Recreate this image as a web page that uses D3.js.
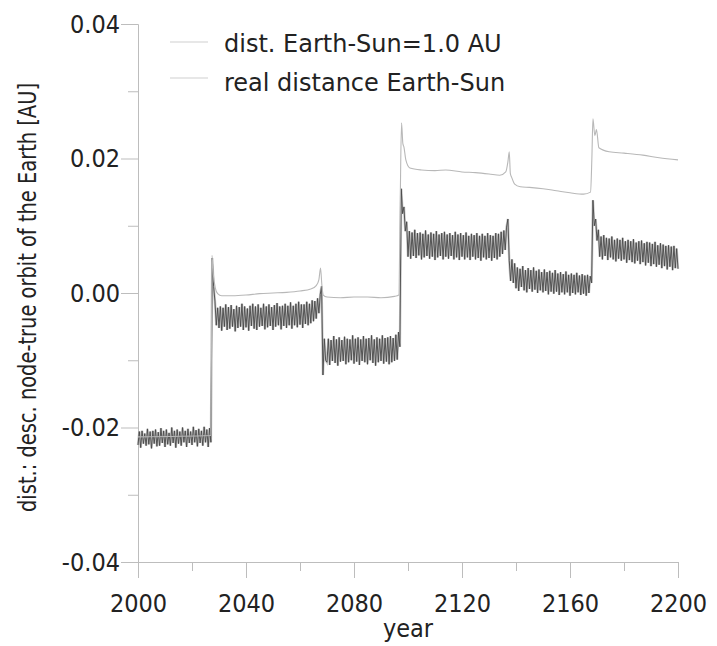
<!DOCTYPE html>
<html>
<head>
<meta charset="utf-8">
<script src="https://cdn.jsdelivr.net/npm/d3@7"></script>
<style>
  html, body { margin: 0; padding: 0; background: #fff; }
  svg { display: block; }
</style>
</head>
<body>
<svg id="chart" width="717" height="646"></svg>
<script>
// ---------------- data ----------------
const xMajorTicks = [2000, 2040, 2080, 2120, 2160, 2200];
const xMinorTicks = [2020, 2060, 2100, 2140, 2180];
const yMajorTicks = [-0.04, -0.02, 0.00, 0.02, 0.04];
const yMinorTicks = [-0.03, -0.01, 0.01, 0.03];
const yTickLabels = ["-0.04", "-0.02", "0.00", "0.02", "0.04"];

const seriesNames = ["dist. Earth-Sun=1.0 AU", "real distance Earth-Sun"];

// "dist. Earth-Sun=1.0 AU" : [year, AU]
const smoothDist = [
  [2000, -0.0214], [2027.0, -0.0212], [2027.4, 0.0056], [2027.9, 0.0028], [2028.6, 0.0008],
  [2029.5, -0.0001], [2031, -0.0004], [2035, -0.0004], [2040, -0.0003], [2045, -0.0001],
  [2050, 0.0000], [2055, 0.0001], [2060, 0.0003], [2064, 0.0006], [2066, 0.0011],
  [2067.0, 0.0020], [2067.6, 0.0037], [2068.1, 0.0012], [2068.6, -0.0003], [2070, -0.0006],
  [2075, -0.0007], [2080, -0.0006], [2085, -0.0006], [2090, -0.0007], [2095, -0.0005],
  [2096.6, -0.0003], [2097.1, 0.0130], [2097.6, 0.0253], [2098.1, 0.0222], [2098.5, 0.0217],
  [2099.2, 0.0198], [2100.7, 0.0186], [2105, 0.0183], [2110, 0.0182], [2114, 0.0183],
  [2120, 0.0180], [2125, 0.0179], [2130, 0.0177], [2134, 0.0175], [2136.2, 0.0180],
  [2137.0, 0.0195], [2137.5, 0.0210], [2137.9, 0.0178], [2138.4, 0.0172], [2139.5, 0.0162],
  [2141.6, 0.0158], [2145, 0.0157], [2150, 0.0155], [2155, 0.0152], [2160, 0.0149],
  [2165, 0.0147], [2167.6, 0.0150], [2168.1, 0.0200], [2168.5, 0.0259], [2169.2, 0.0234],
  [2169.8, 0.0243], [2170.7, 0.0216], [2174.5, 0.0210], [2180, 0.0208], [2187, 0.0205],
  [2193, 0.0201], [2200, 0.0198]
];

// "real distance Earth-Sun" : AU, one value every half year from 2000.0 to 2200.0
const realStart = 2000;
const realStep = 0.5;
const realDist = [
  // 2000 - 2026.5
  -0.0226, -0.0206, -0.0230, -0.0205, -0.0224, -0.0209, -0.0227, -0.0202, -0.0225, -0.0206,
  -0.0231, -0.0205, -0.0224, -0.0203, -0.0228, -0.0207, -0.0227, -0.0201, -0.0223, -0.0205,
  -0.0229, -0.0203, -0.0225, -0.0208, -0.0227, -0.0200, -0.0223, -0.0205, -0.0230, -0.0203,
  -0.0224, -0.0206, -0.0227, -0.0200, -0.0222, -0.0205, -0.0229, -0.0202, -0.0223, -0.0206,
  -0.0226, -0.0199, -0.0222, -0.0204, -0.0228, -0.0202, -0.0223, -0.0205, -0.0227, -0.0199,
  -0.0222, -0.0203, -0.0229, -0.0201,
  // 2027.0 - 2029.5
  -0.0222, 0.0052, 0.0010, -0.0012, -0.0048, -0.0022,
  // 2030 - 2067.5
  -0.0052, -0.0020, -0.0056, -0.0022, -0.0050, -0.0017, -0.0055, -0.0021, -0.0053, -0.0018,
  -0.0050, -0.0024, -0.0057, -0.0019, -0.0052, -0.0021, -0.0050, -0.0016, -0.0055, -0.0020,
  -0.0051, -0.0023, -0.0056, -0.0019, -0.0049, -0.0016, -0.0053, -0.0020, -0.0055, -0.0017,
  -0.0050, -0.0022, -0.0049, -0.0016, -0.0054, -0.0020, -0.0051, -0.0017, -0.0049, -0.0021,
  -0.0055, -0.0018, -0.0050, -0.0015, -0.0048, -0.0020, -0.0054, -0.0019, -0.0049, -0.0016,
  -0.0052, -0.0019, -0.0048, -0.0014, -0.0053, -0.0019, -0.0048, -0.0016, -0.0051, -0.0013,
  -0.0047, -0.0017, -0.0052, -0.0017, -0.0046, -0.0013, -0.0048, -0.0016, -0.0045, -0.0011,
  -0.0042, -0.0012, -0.0038, -0.0008, -0.0030, -0.0002,
  // 2068.0 - 2069.5
  0.0010, -0.0122, -0.0068, -0.0100,
  // 2070 - 2096.5
  -0.0103, -0.0068, -0.0107, -0.0070, -0.0101, -0.0064, -0.0104, -0.0069, -0.0108, -0.0066,
  -0.0102, -0.0070, -0.0101, -0.0065, -0.0106, -0.0068, -0.0103, -0.0069, -0.0100, -0.0063,
  -0.0105, -0.0068, -0.0102, -0.0066, -0.0107, -0.0069, -0.0101, -0.0064, -0.0103, -0.0068,
  -0.0106, -0.0067, -0.0100, -0.0063, -0.0104, -0.0069, -0.0108, -0.0066, -0.0103, -0.0068,
  -0.0101, -0.0063, -0.0105, -0.0067, -0.0102, -0.0066, -0.0106, -0.0064, -0.0103, -0.0067,
  -0.0101, -0.0062, -0.0099, -0.0058,
  // 2097.0 - 2099.5
  -0.0080, 0.0155, 0.0118, 0.0128, 0.0092, 0.0106,
  // 2100 - 2136.5
  0.0054, 0.0092, 0.0051, 0.0090, 0.0055, 0.0094, 0.0052, 0.0089, 0.0056, 0.0090,
  0.0050, 0.0088, 0.0053, 0.0093, 0.0055, 0.0087, 0.0051, 0.0090, 0.0054, 0.0088,
  0.0049, 0.0092, 0.0053, 0.0087, 0.0055, 0.0089, 0.0050, 0.0091, 0.0054, 0.0087,
  0.0051, 0.0089, 0.0055, 0.0086, 0.0050, 0.0091, 0.0053, 0.0087, 0.0049, 0.0089,
  0.0054, 0.0086, 0.0050, 0.0090, 0.0053, 0.0085, 0.0049, 0.0088, 0.0054, 0.0086,
  0.0050, 0.0089, 0.0052, 0.0085, 0.0048, 0.0088, 0.0053, 0.0085, 0.0050, 0.0089,
  0.0052, 0.0086, 0.0048, 0.0085, 0.0052, 0.0089, 0.0050, 0.0088, 0.0054, 0.0091,
  0.0058, 0.0093, 0.0064, 0.0098,
  // 2137.0 - 2139.5
  0.0110, 0.0048, 0.0018, 0.0050, 0.0015, 0.0044,
  // 2140 - 2167.5
  0.0007, 0.0038, 0.0003, 0.0036, 0.0009, 0.0040, 0.0004, 0.0034, 0.0001, 0.0037,
  0.0006, 0.0034, 0.0002, 0.0038, 0.0005, 0.0033, 0.0000, 0.0035, 0.0004, 0.0031,
  0.0001, 0.0035, 0.0003, 0.0031, -0.0002, 0.0033, 0.0002, 0.0030, -0.0001, 0.0034,
  0.0002, 0.0029, -0.0003, 0.0031, 0.0001, 0.0028, -0.0002, 0.0032, 0.0001, 0.0027,
  -0.0004, 0.0029, 0.0000, 0.0027, -0.0002, 0.0030, 0.0001, 0.0026, -0.0003, 0.0028,
  -0.0001, 0.0026, -0.0004, 0.0027, 0.0000, 0.0025,
  // 2168.0 - 2170.5
  0.0015, 0.0138, 0.0100, 0.0110, 0.0078, 0.0094,
  // 2171 - 2199.5
  0.0054, 0.0084, 0.0050, 0.0086, 0.0055, 0.0082, 0.0049, 0.0081, 0.0053, 0.0084,
  0.0050, 0.0079, 0.0047, 0.0081, 0.0051, 0.0079, 0.0048, 0.0082, 0.0050, 0.0077,
  0.0045, 0.0079, 0.0049, 0.0077, 0.0046, 0.0080, 0.0044, 0.0075, 0.0048, 0.0077,
  0.0043, 0.0078, 0.0046, 0.0074, 0.0041, 0.0076, 0.0045, 0.0075, 0.0040, 0.0073,
  0.0043, 0.0076, 0.0039, 0.0071, 0.0042, 0.0074, 0.0037, 0.0072, 0.0040, 0.0070,
  0.0035, 0.0071, 0.0039, 0.0069, 0.0034, 0.0070, 0.0037, 0.0066,
  // 2200.0
  0.0036
];

// ---------------- drawing ----------------
const svg = d3.select("#chart");
const tickFont = "'DejaVu Sans Condensed', 'DejaVu Sans', sans-serif";
const axisColor = "#bdbdbd";
const textColor = "#222";

const x = d3.scaleLinear().domain([2000, 2200]).range([138, 678]);
const y = d3.scaleLinear().domain([-0.04, 0.04]).range([562, 24]);

// axes
const gx = svg.append("g").attr("transform", `translate(0,${y(-0.04)})`);
gx.call(d3.axisBottom(x).tickValues(xMinorTicks).tickSize(9).tickSizeOuter(0).tickFormat(""));
const gx2 = svg.append("g").attr("transform", `translate(0,${y(-0.04)})`);
gx2.call(d3.axisBottom(x).tickValues(xMajorTicks).tickSize(16).tickSizeOuter(0).tickFormat(d3.format("d")));
gx2.selectAll("text").attr("dy", null).attr("y", 50);

const gy = svg.append("g").attr("transform", `translate(${x(2000)},0)`);
gy.call(d3.axisLeft(y).tickValues(yMinorTicks).tickSize(10).tickSizeOuter(0).tickFormat(""));
const gy2 = svg.append("g").attr("transform", `translate(${x(2000)},0)`);
gy2.call(d3.axisLeft(y).tickValues(yMajorTicks).tickSize(17).tickSizeOuter(0)
  .tickPadding(1).tickFormat((d, i) => yTickLabels[i]));

svg.selectAll(".domain").attr("stroke", axisColor);
svg.selectAll(".tick line").attr("stroke", axisColor);
svg.selectAll(".tick text")
  .attr("fill", textColor)
  .style("font-family", tickFont)
  .style("font-size", "25px");

// series
const realPts = realDist.map((v, i) => [realStart + i * realStep, v]);
const line = d3.line().x(d => x(d[0])).y(d => y(d[1]));

// soft halo under the oscillating series (mimics the blurred band)
svg.append("path")
  .datum(realPts)
  .attr("d", line)
  .attr("fill", "none")
  .attr("stroke", "#9a9a9a")
  .attr("stroke-opacity", 0.55)
  .attr("stroke-width", 2.4);

svg.append("path")
  .datum(realPts)
  .attr("d", line)
  .attr("fill", "none")
  .attr("stroke", "#474747")
  .attr("stroke-width", 0.9);

svg.append("path")
  .datum(smoothDist)
  .attr("d", line.curve(d3.curveMonotoneX))
  .attr("fill", "none")
  .attr("stroke", "#b8b8b8")
  .attr("stroke-width", 1.1);

// legend
const legend = svg.append("g");
const legendY = [42, 78];
seriesNames.forEach((name, i) => {
  legend.append("line")
    .attr("x1", 170).attr("x2", 208)
    .attr("y1", legendY[i]).attr("y2", legendY[i])
    .attr("stroke", "#cfcfcf").attr("stroke-width", 1);
  legend.append("text")
    .attr("x", 224).attr("y", legendY[i] + 10 + i * 2.5)
    .attr("fill", textColor)
    .style("font-family", "'DejaVu Sans', sans-serif")
    .style("font-size", "24px")
    .text(name);
});

// axis titles
svg.append("text")
  .attr("x", x(2100)).attr("y", 637)
  .attr("text-anchor", "middle")
  .attr("fill", textColor)
  .style("font-family", tickFont)
  .style("font-size", "25px")
  .text("year");

svg.append("text")
  .attr("transform", `translate(36,${(83 + 512) / 2}) rotate(-90)`)
  .attr("text-anchor", "middle")
  .attr("fill", textColor)
  .attr("textLength", 429)
  .attr("lengthAdjust", "spacingAndGlyphs")
  .style("font-family", tickFont)
  .style("font-size", "25px")
  .text("dist.: desc. node-true orbit of the Earth [AU]");
</script>
</body>
</html>
